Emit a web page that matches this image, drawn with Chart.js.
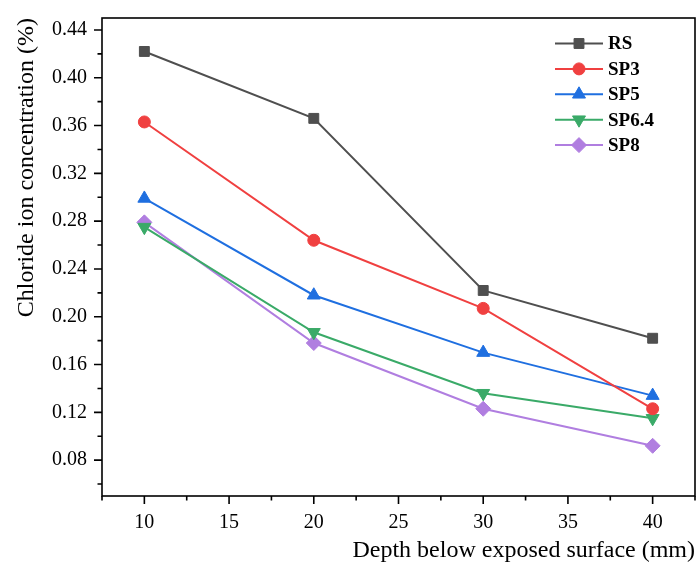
<!DOCTYPE html>
<html>
<head>
<meta charset="utf-8">
<script src="https://cdn.jsdelivr.net/npm/chart.js@4.4.1/dist/chart.umd.min.js"></script>
<style>
  html, body { margin: 0; background: #fff; }
  #wrap { width: 700px; height: 565px; }
</style>
</head>
<body>
<div id="wrap"><canvas id="chart"></canvas></div>
<script>
// depth (mm) and chloride ion concentration (%) per mix
const depths = [10, 20, 30, 40];
const rs   = [0.422, 0.366, 0.222, 0.182];
const sp3  = [0.363, 0.264, 0.207, 0.123];
const sp5  = [0.299, 0.218, 0.170, 0.134];
const sp64 = [0.275, 0.187, 0.136, 0.115];
const sp8  = [0.279, 0.178, 0.123, 0.092];

const xTicks = [10, 15, 20, 25, 30, 35, 40];
const yTicks = [0.08, 0.12, 0.16, 0.20, 0.24, 0.28, 0.32, 0.36, 0.40, 0.44];
const xMinor = [7.5, 12.5, 17.5, 22.5, 27.5, 32.5, 37.5, 42.5];
const yMinor = [0.06, 0.10, 0.14, 0.18, 0.22, 0.26, 0.30, 0.34, 0.38, 0.42];

const FONT = '"Liberation Serif", "Times New Roman", serif';

const series = [
  { label: 'RS',    values: rs,   color: '#4f4f4f', style: 'rect',     radius: 7,   rot: 0 },
  { label: 'SP3',   values: sp3,  color: '#f04040', style: 'circle',   radius: 6,   rot: 0 },
  { label: 'SP5',   values: sp5,  color: '#1f6fe0', style: 'triangle', radius: 7.5, rot: 0 },
  { label: 'SP6.4', values: sp64, color: '#3aaa68', style: 'triangle', radius: 7.5, rot: 180 },
  { label: 'SP8',   values: sp8,  color: '#b07ee0', style: 'rectRot',  radius: 7.5, rot: 0 },
];

const datasets = series.map(s => ({
  label: s.label,
  data: depths.map((d, i) => ({ x: d, y: s.values[i] })),
  borderColor: s.color,
  backgroundColor: s.color,
  borderWidth: 2,
  pointStyle: s.style,
  pointRadius: s.radius,
  pointRotation: s.rot,
  pointBorderWidth: 1,
  pointBackgroundColor: s.color,
  pointBorderColor: s.color,
}));

// frame + outside ticks (major and minor), Origin style
const frame = {
  id: 'frame',
  afterDraw(chart) {
    const { ctx, chartArea: a, scales: { x, y } } = chart;
    ctx.save();
    ctx.strokeStyle = '#000';
    ctx.lineWidth = 1.6;
    ctx.strokeRect(a.left, a.top, a.right - a.left, a.bottom - a.top);
    ctx.beginPath();
    xTicks.forEach(v => { const px = x.getPixelForValue(v); ctx.moveTo(px, a.bottom); ctx.lineTo(px, a.bottom + 8); });
    xMinor.forEach(v => { const px = x.getPixelForValue(v); ctx.moveTo(px, a.bottom); ctx.lineTo(px, a.bottom + 4.5); });
    yTicks.forEach(v => { const py = y.getPixelForValue(v); ctx.moveTo(a.left, py); ctx.lineTo(a.left - 8, py); });
    yMinor.forEach(v => { const py = y.getPixelForValue(v); ctx.moveTo(a.left, py); ctx.lineTo(a.left - 4.5, py); });
    ctx.stroke();
    ctx.restore();
  }
};

// legend: line segment with marker in the middle
const lineLegend = {
  id: 'lineLegend',
  afterDraw(chart) {
    const { ctx } = chart;
    const x0 = 555, x1 = 603, xm = 579, tx = 608, top = 43.5, step = 25.4;
    ctx.save();
    ctx.font = 'bold 19px ' + FONT;
    ctx.textBaseline = 'middle';
    series.forEach((s, i) => {
      const yy = top + i * step;
      ctx.strokeStyle = s.color;
      ctx.lineWidth = 2;
      ctx.beginPath(); ctx.moveTo(x0, yy); ctx.lineTo(x1, yy); ctx.stroke();
      ctx.fillStyle = s.color;
      ctx.lineWidth = 1;
      Chart.helpers.drawPoint(ctx, { pointStyle: s.style, radius: s.radius, rotation: s.rot, borderWidth: 1 }, xm, yy);
      ctx.fillStyle = '#000';
      ctx.fillText(s.label, tx, yy + 1);
    });
    ctx.restore();
  }
};

new Chart(document.getElementById('chart'), {
  type: 'line',
  data: { datasets },
  options: {
    responsive: true,
    maintainAspectRatio: false,
    animation: false,
    layout: { autoPadding: false, padding: { top: 18, right: 5, left: 0, bottom: 0 } },
    plugins: { legend: { display: false }, tooltip: { enabled: false } },
    scales: {
      x: {
        type: 'linear',
        min: 7.5, max: 42.5,
        afterBuildTicks: s => { s.ticks = xTicks.map(v => ({ value: v })); },
        afterFit: s => { s.height = 69; s.paddingLeft = 0; s.paddingRight = 0; },
        grid: { display: false, drawTicks: false },
        border: { display: false },
        ticks: { color: '#000', font: { family: FONT, size: 20 }, padding: 15, maxRotation: 0 },
        title: {
          display: true, text: 'Depth below exposed surface (mm)', align: 'end',
          color: '#000', font: { family: FONT, size: 24 }, padding: { top: 0, bottom: 0 }
        }
      },
      y: {
        type: 'linear',
        min: 0.05, max: 0.45,
        afterBuildTicks: s => { s.ticks = yTicks.map(v => ({ value: v })); },
        afterFit: s => { s.width = 102; s.paddingTop = 0; s.paddingBottom = 0; },
        grid: { display: false, drawTicks: false },
        border: { display: false },
        ticks: { color: '#000', font: { family: FONT, size: 20 }, padding: 15, callback: v => v.toFixed(2) },
        title: {
          display: true, text: 'Chloride ion concentration (%)', align: 'end',
          color: '#000', font: { family: FONT, size: 24 }, padding: { top: 12, bottom: 0 }
        }
      }
    }
  },
  plugins: [frame, lineLegend]
});
</script>
</body>
</html>
